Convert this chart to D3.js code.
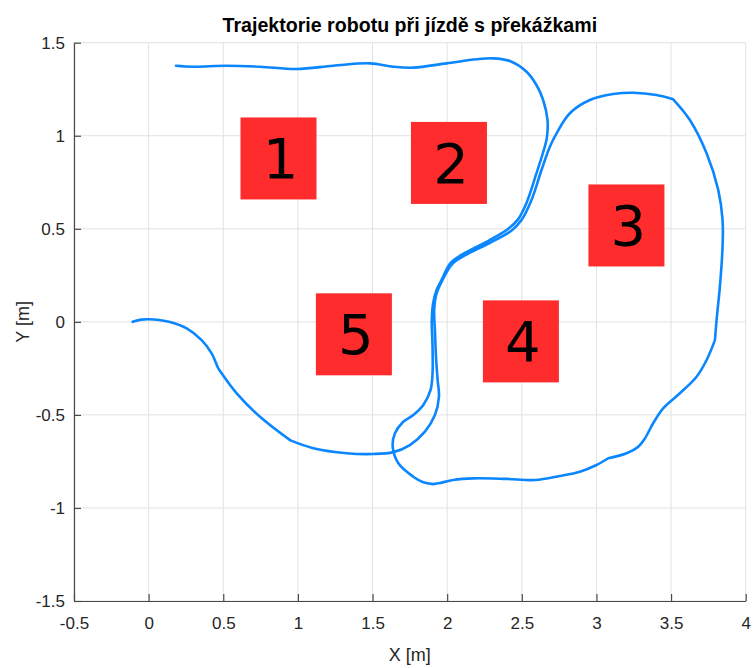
<!DOCTYPE html>
<html>
<head>
<meta charset="utf-8">
<script src="https://cdn.jsdelivr.net/npm/d3@7"></script>
<style>
  html, body { margin: 0; padding: 0; background: #fff; }
  svg { display: block; }
</style>
</head>
<body>
<div id="chart"></div>
<script>
// Robot trajectory (metres), in driving order
const trajX = [-0.107, -0.05, 0.000, 0.07, 0.143, 0.255, 0.355, 0.422, 0.467, 0.482,
  0.590, 0.746, 0.950, 1.103, 1.326, 1.505, 1.639, 1.750, 1.851, 1.918,
  1.945, 1.936, 1.925, 1.918, 1.913, 1.929, 1.969, 2.035, 2.135, 2.290,
  2.430, 2.498, 2.565, 2.632, 2.688, 2.733, 2.822, 2.956, 3.112, 3.246,
  3.402, 3.514, 3.626, 3.738, 3.816, 3.845, 3.845, 3.827, 3.805, 3.794,
  3.738, 3.671, 3.559, 3.447, 3.380, 3.325, 3.280, 3.202, 3.079, 3.001,
  2.889, 2.755, 2.588, 2.398, 2.175, 2.040, 1.951, 1.906, 1.840, 1.773,
  1.673, 1.635, 1.650, 1.706, 1.773, 1.840, 1.889, 1.902, 1.902, 1.897,
  1.906, 1.929, 1.962, 2.025, 2.125, 2.280, 2.412, 2.476, 2.532, 2.599,
  2.650, 2.668, 2.672, 2.643, 2.600, 2.532, 2.420, 2.308, 2.197, 1.996,
  1.773, 1.639, 1.483, 1.237, 0.992, 0.746, 0.523, 0.299, 0.183];
const trajY = [0.000, 0.012, 0.014, 0.010, -0.001, -0.035, -0.098, -0.169, -0.250, -0.268,
  -0.384, -0.510, -0.637, -0.679, -0.706, -0.710, -0.700, -0.662, -0.590, -0.501,
  -0.402, -0.312, -0.187, -0.044, 0.064, 0.153, 0.225, 0.312, 0.364, 0.426,
  0.490, 0.547, 0.655, 0.816, 0.941, 1.013, 1.121, 1.192, 1.224, 1.231,
  1.219, 1.196, 1.085, 0.906, 0.709, 0.547, 0.404, 0.189, 0.010, -0.098,
  -0.205, -0.295, -0.384, -0.465, -0.545, -0.626, -0.671, -0.706, -0.733, -0.769,
  -0.805, -0.828, -0.850, -0.844, -0.841, -0.850, -0.866, -0.872, -0.862, -0.832,
  -0.760, -0.671, -0.599, -0.537, -0.501, -0.447, -0.366, -0.276, -0.133, 0.010,
  0.100, 0.171, 0.225, 0.318, 0.373, 0.437, 0.502, 0.552, 0.640, 0.800,
  0.930, 0.990, 1.085, 1.192, 1.270, 1.344, 1.402, 1.416, 1.411, 1.389,
  1.366, 1.371, 1.389, 1.376, 1.359, 1.371, 1.376, 1.371, 1.376];
// indices where the steering changed abruptly (sharp corners in the path)
const cornerIdx = [9, 12, 41, 49, 58, 67];

// Obstacles: label and centre position (metres)
const obstacleLabels = ["1", "2", "3", "4", "5"];
const obstacleX = [0.870, 2.012, 3.201, 2.494, 1.375];
const obstacleY = [0.878, 0.854, 0.518, -0.105, -0.067];

const xTicks = [-0.5, 0, 0.5, 1, 1.5, 2, 2.5, 3, 3.5, 4];
const yTicks = [-1.5, -1, -0.5, 0, 0.5, 1, 1.5];

const W = 753, H = 668;
const margin = { left: 74, top: 42.7, right: W - 745.7, bottom: H - 601 };
const pw = W - margin.left - margin.right;
const ph = H - margin.top - margin.bottom;

const x = d3.scaleLinear().domain([-0.5, 4]).range([0, pw]);
const y = d3.scaleLinear().domain([-1.5, 1.5]).range([ph, 0]);

const svg = d3.select("#chart").append("svg")
  .attr("width", W).attr("height", H);

const g = svg.append("g").attr("transform", `translate(${margin.left},${margin.top})`);

const fontAxis = "'Liberation Sans', Arial, Helvetica, sans-serif";
const textColor = "#262626";

// grid
g.append("g").selectAll("line").data(xTicks).join("line")
  .attr("x1", d => x(d)).attr("x2", d => x(d))
  .attr("y1", 0).attr("y2", ph)
  .attr("stroke", "#e2e2e2").attr("stroke-width", 1);
g.append("g").selectAll("line").data(yTicks).join("line")
  .attr("x1", 0).attr("x2", pw)
  .attr("y1", d => y(d)).attr("y2", d => y(d))
  .attr("stroke", "#e2e2e2").attr("stroke-width", 1);

// axes (ticks pointing inward)
const fmt = d => String(d);
const xAxis = g.append("g").attr("transform", `translate(0,${ph})`)
  .call(d3.axisBottom(x).tickValues(xTicks).tickFormat(fmt).tickSizeInner(-7).tickSizeOuter(0).tickPadding(16));
const yAxis = g.append("g")
  .call(d3.axisLeft(y).tickValues(yTicks).tickFormat(fmt).tickSizeInner(-7).tickSizeOuter(0).tickPadding(9));
[xAxis, yAxis].forEach(a => {
  a.select(".domain").attr("stroke", "#4a4a4a").attr("stroke-width", 1.2);
  a.selectAll(".tick line").attr("stroke", "#4a4a4a").attr("stroke-width", 1.2);
  a.selectAll(".tick text").attr("fill", textColor)
    .style("font-family", fontAxis).style("font-size", "17px");
});

// obstacles
const boxW = 76, boxH = 82;
const obst = g.append("g").selectAll("g").data(obstacleLabels).join("g")
  .attr("transform", (d, i) => `translate(${x(obstacleX[i])},${y(obstacleY[i])})`);
obst.append("rect")
  .attr("x", -boxW / 2).attr("y", -boxH / 2)
  .attr("width", boxW).attr("height", boxH)
  .attr("fill", "#fe2c2c");
obst.append("text")
  .attr("x", 2).attr("y", 20)
  .attr("text-anchor", "middle")
  .style("font-family", "'DejaVu Sans', sans-serif")
  .style("font-size", "56px")
  .attr("fill", "#000")
  .text(d => d);

// trajectory: smooth pieces joined at the sharp corners
const pts = trajX.map((v, i) => [v, trajY[i]]);
const line = d3.line().x(d => x(d[0])).y(d => y(d[1])).curve(d3.curveCatmullRom.alpha(0.5));
const bounds = [0, ...cornerIdx, pts.length - 1];
let dStr = "";
for (let k = 0; k < bounds.length - 1; k++) {
  dStr += line(pts.slice(bounds[k], bounds[k + 1] + 1));
}
g.append("path")
  .attr("d", dStr)
  .attr("fill", "none")
  .attr("stroke", "#0a86ff")
  .attr("stroke-width", 2.6)
  .attr("stroke-linejoin", "round")
  .attr("stroke-linecap", "round");

// title and axis labels
svg.append("text")
  .attr("x", margin.left + pw / 2).attr("y", 32)
  .attr("text-anchor", "middle")
  .style("font-family", fontAxis).style("font-size", "19.6px").style("font-weight", "bold")
  .attr("fill", "#000")
  .text("Trajektorie robotu při jízdě s překážkami");
svg.append("text")
  .attr("x", margin.left + pw / 2).attr("y", 661)
  .attr("text-anchor", "middle")
  .style("font-family", fontAxis).style("font-size", "18px")
  .attr("fill", textColor)
  .text("X [m]");
svg.append("text")
  .attr("transform", `translate(29,${margin.top + ph / 2}) rotate(-90)`)
  .attr("text-anchor", "middle")
  .style("font-family", fontAxis).style("font-size", "18px")
  .attr("fill", textColor)
  .text("Y [m]");
</script>
</body>
</html>
